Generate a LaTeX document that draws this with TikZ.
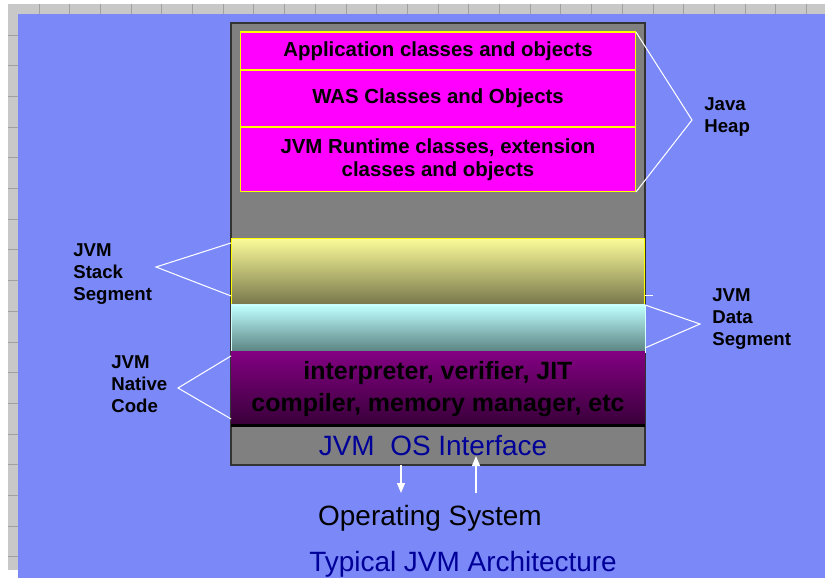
\documentclass[tikz,border=0pt]{standalone}
\usepackage{fontspec}
\setmainfont{Liberation Sans}
\usetikzlibrary{arrows.meta,positioning}
\definecolor{slide}{HTML}{7A88F8}
\definecolor{gridgray}{HTML}{C8C8C8}
\definecolor{gridline}{HTML}{A0A0A0}
\definecolor{jvmgray}{HTML}{808080}
\definecolor{navy}{HTML}{000099}
\definecolor{heappink}{HTML}{FF00FF}
\definecolor{heapline}{HTML}{FFFF00}
\definecolor{stacktop}{HTML}{FAFA98}
\definecolor{stackbottom}{HTML}{76764C}
\definecolor{datatop}{HTML}{C0FFFF}
\definecolor{databottom}{HTML}{5A8282}
\definecolor{nativetop}{HTML}{820082}
\definecolor{nativebottom}{HTML}{380038}

\begin{document}
\begin{tikzpicture}[
    x=0.02cm, y=-0.02cm,
    heapbox/.style={
      draw=heapline,
      fill=heappink,
      line width=0.6pt,
      minimum width=7.92cm,
      inner sep=0pt,
      outer sep=0pt,
      align=center,
      font=\bfseries\fontsize{11.6}{13.1}\selectfont
    },
    band/.style={
      minimum width=8.28cm,
      inner sep=0pt,
      outer sep=0pt,
      align=center
    },
    sidelabel/.style={
      anchor=north west,
      inner sep=0pt,
      align=left,
      font=\bfseries\fontsize{10.6}{12.5}\selectfont
    },
    bracket/.style={draw=white, line width=0.6pt},
    flow/.style={-{Triangle[length=0.2cm, width=0.16cm]}, draw=white, fill=white, line width=0.7pt}
  ]
    \useasboundingbox (0,0) rectangle (825,578);
    % sheet behind the slide
    \fill[white] (0,0) rectangle (825,578);
    \fill[gridgray] (8,4) rectangle (825,14);
    \fill[gridgray] (8,4) rectangle (18,570);
    \foreach \gx in {0,...,25}
      \draw[gridline, line width=0.5pt] (39+30.7*\gx,4) -- (39+30.7*\gx,14);
    \foreach \gy in {0,...,17}
      \draw[gridline, line width=0.5pt] (8,35+30.7*\gy) -- (18,35+30.7*\gy);
    \fill[slide] (18,14) rectangle (825,578);

    % the JVM process
    \node[band, anchor=north west, draw=black!80, fill=jvmgray, line width=0.8pt,
      minimum height=8.84cm] (jvm) at (231,23) {};

    \node[heapbox, anchor=north, minimum height=0.76cm] (app) at (438,32)
      {Application classes and objects};
    \node[heapbox, minimum height=1.14cm, below=0pt of app]
      (was) {WAS Classes and Objects};
    \node[heapbox, minimum height=1.30cm, below=0pt of was]
      (runtime) {JVM Runtime classes, extension\\classes and objects};

    \node[band, minimum height=1.32cm, below=0.94cm of runtime, draw=heapline,
      line width=0.6pt, top color=stacktop, bottom color=stackbottom]
      (stack) {};
    \node[band, minimum height=0.94cm, below=0pt of stack, draw=datatop!70!white,
      line width=0.4pt, top color=datatop, bottom color=databottom]
      (data) {};
    \node[band, minimum height=1.48cm, below=0pt of data,
      top color=nativetop, bottom color=nativebottom,
      font=\bfseries\fontsize{14.2}{18.2}\selectfont]
      (native) {interpreter, verifier, JIT\\compiler, memory manager, etc};
    \draw[line width=1.7pt] (native.south west) -- (native.south east);
    \node[band, minimum height=0.78cm, below=0pt of native, text=navy,
      font=\fontsize{15.9}{18}\selectfont]
      (osif) {JVM\ \ OS Interface\hspace{0.2cm}};

    \node[font=\fontsize{15.9}{18}\selectfont] (os) at (430,518) {Operating System};
    \node[text=navy, font=\fontsize{15.9}{18}\selectfont] (title) at (463,564)
      {Typical JVM Architecture};

    % labels beside the segments
    \node[sidelabel] (heap) at (704,97) {Java\\Heap};
    \node[sidelabel] (stacklabel) at (73,243) {JVM\\Stack\\Segment};
    \node[sidelabel] (datalabel) at (712,288) {JVM\\Data\\Segment};
    \node[sidelabel] (nativelabel) at (111,355) {JVM\\Native\\Code};

    \coordinate (heapTip) at (692,120);
    \coordinate (stackTip) at (156,267);
    \coordinate (dataTip) at (700,324);
    \coordinate (nativeTip) at (178,388);
    \coordinate (osDown) at (401,493);
    \coordinate (osUp) at (476,493);
    \coordinate (osUpTip) at (476,456);

    \draw[bracket] (app.north east) -- (heapTip) -- (runtime.south east);
    \draw[bracket] ([yshift=-0.08cm]stack.north west) -- (stackTip)
      -- ([yshift=0.18cm]stack.south west);
    \draw[bracket] (data.north east) -- (dataTip) -- ([yshift=0.08cm]data.south east);
    \draw[bracket] ([yshift=0.18cm]stack.south east) -- ++(8,0);
    \draw[bracket] ([yshift=-0.08cm]native.north west) -- (nativeTip)
      -- ([yshift=0.14cm]native.south west);

    \draw[flow] (osif.south -| osDown) -- (osDown);
    \draw[flow] (osUp) -- (osUpTip);
  \end{tikzpicture}
\end{document}
